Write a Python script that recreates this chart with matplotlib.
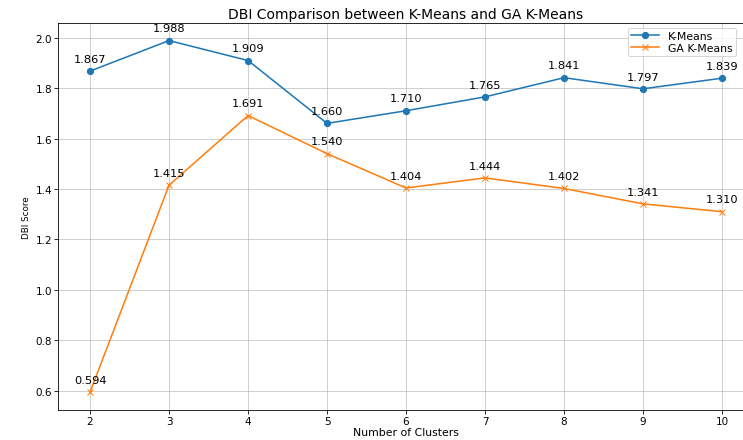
import matplotlib
matplotlib.use("Agg")
import matplotlib.pyplot as plt

clusters = [2, 3, 4, 5, 6, 7, 8, 9, 10]
kmeans_dbi = [1.867, 1.988, 1.909, 1.660, 1.710, 1.765, 1.841, 1.797, 1.839]
ga_kmeans_dbi = [0.594, 1.415, 1.691, 1.540, 1.404, 1.444, 1.402, 1.341, 1.310]

# original looks like a bigger figure squashed to 743x441, right edge cut off
fig = plt.figure(figsize=(10, 441 / 74.3), dpi=74.3)
ax = fig.add_axes([0.0786, 0.068, 0.9357, 0.8776])

ax.plot(clusters, kmeans_dbi, marker="o", label="K-Means")
ax.plot(clusters, ga_kmeans_dbi, marker="x", label="GA K-Means")

for x, y in zip(clusters, kmeans_dbi):
    ax.annotate(f"{y:.3f}", (x, y), textcoords="offset points", xytext=(0, 9),
                ha="center", fontsize=11)
for x, y in zip(clusters, ga_kmeans_dbi):
    ax.annotate(f"{y:.3f}", (x, y), textcoords="offset points", xytext=(0, 9),
                ha="center", fontsize=11)

ax.set_title("DBI Comparison between K-Means and GA K-Means", fontsize=13.5, pad=5)
ax.set_xlabel("Number of Clusters", fontsize=10.5, labelpad=1)
ax.set_ylabel("DBI Score", fontsize=8.5)
ax.set_xticks(clusters)
ax.tick_params(labelsize=10, pad=2.5)
# legend box starts near the right edge of the visible picture
ax.legend(loc="upper left", bbox_to_anchor=(0.819, 0.988), borderaxespad=0,
          fontsize=10.5, labelspacing=0.2, handlelength=2.6, borderpad=0.3)
ax.grid(True, alpha=0.7)

fig.savefig("out.png", dpi=74.3)
